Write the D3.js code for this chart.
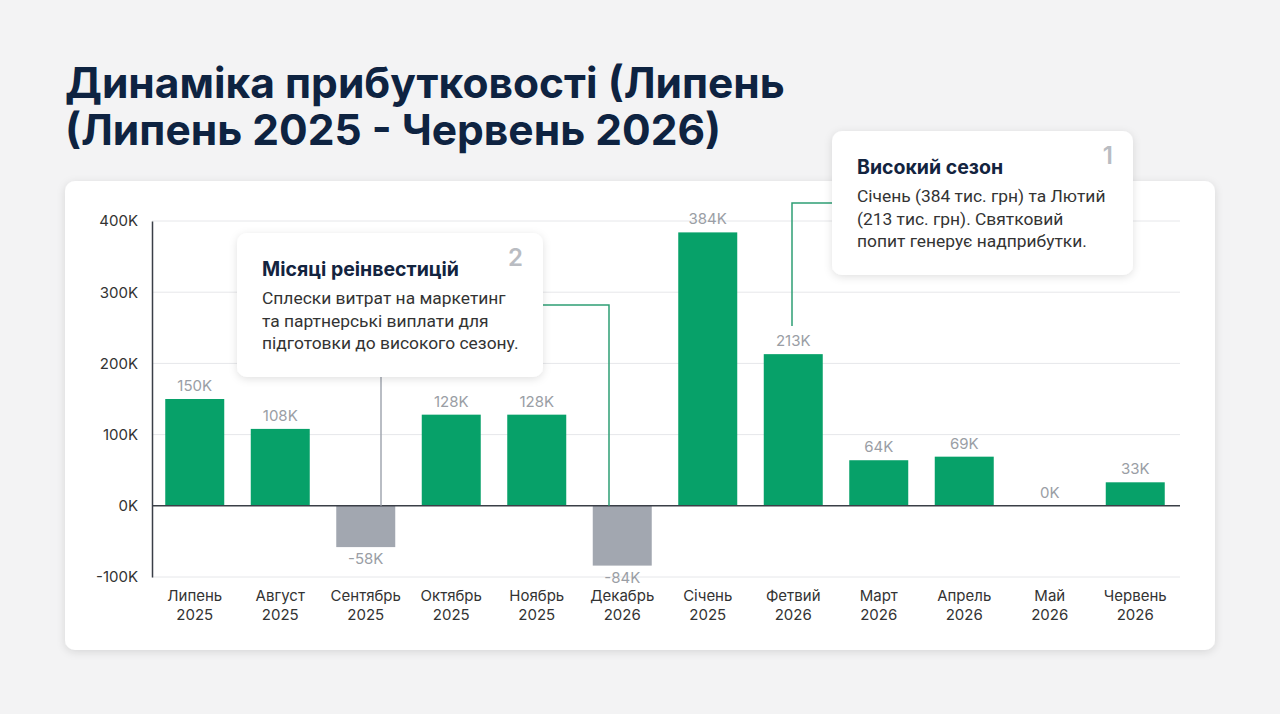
<!DOCTYPE html>
<html lang="uk">
<head>
<meta charset="UTF-8">
<title>Динаміка прибутковості</title>
<style>
  * { margin: 0; padding: 0; box-sizing: border-box; }
  body { background: #f3f3f4; width: 1280px; height: 714px; overflow: hidden; font-family: Inter, 'Noto Sans', sans-serif; }
  svg { display: block; }
</style>
</head>
<body>
<svg width="1280" height="714"></svg>
<script src="https://cdn.jsdelivr.net/npm/d3@7/dist/d3.min.js"></script>
<script>
// Data
const months = ['Липень', 'Август', 'Сентябрь', 'Октябрь', 'Ноябрь', 'Декабрь', 'Січень', 'Фетвий', 'Март', 'Апрель', 'Май', 'Червень'];
const years = ['2025', '2025', '2025', '2025', '2025', '2026', '2025', '2026', '2026', '2026', '2026', '2026'];
const profit = [150, 108, -58, 128, 128, -84, 384, 213, 64, 69, 0, 33]; // тис. грн
const yTicks = [-100, 0, 100, 200, 300, 400];

const titleLines = ['Динаміка прибутковості (Липень', '(Липень 2025 - Червень 2026)'];
const note1 = { num: '1', title: 'Високий сезон', lines: ['Січень (384 тис. грн) та Лютий', '(213 тис. грн). Святковий', 'попит генерує надприбутки.'] };
const note2 = { num: '2', title: 'Місяці реінвестицій', lines: ['Сплески витрат на маркетинг', 'та партнерські виплати для', 'підготовки до високого сезону.'] };

const svg = d3.select('svg');
const defs = svg.append('defs');
const sh = defs.append('filter').attr('id', 'shadow').attr('x', '-10%').attr('y', '-10%').attr('width', '120%').attr('height', '130%');
sh.append('feDropShadow').attr('dx', 0).attr('dy', 2).attr('stdDeviation', 4).attr('flood-color', '#000').attr('flood-opacity', 0.12);

// Title
svg.append('g').selectAll('text').data(titleLines).enter().append('text')
  .attr('x', 65).attr('y', (d, i) => 98 + i * 47)
  .attr('fill', '#0e2341').attr('font-size', 42.5).attr('font-weight', 700)
  .text(d => d);

// Card
svg.append('rect').attr('x', 65).attr('y', 181).attr('width', 1150).attr('height', 469)
  .attr('rx', 10).attr('fill', '#fff').attr('filter', 'url(#shadow)');

// Scales
const x = d3.scaleBand().domain(months.map((m, i) => i)).range([152, 1178]).paddingInner(0.31).paddingOuter(0.155);
const y = d3.scaleLinear().domain([-100, 400]).range([577, 221]);

// Grid
const g = svg.append('g');
g.selectAll('.grid').data(yTicks.filter(t => t !== 0)).enter().append('line')
  .attr('x1', 152).attr('x2', 1180).attr('y1', d => y(d)).attr('y2', d => y(d))
  .attr('stroke', '#e6e7ea').attr('stroke-width', 1);

// Y axis
const yAxis = g.append('g').attr('transform', 'translate(152,0)')
  .call(d3.axisLeft(y).tickValues(yTicks).tickSize(0).tickPadding(14).tickFormat(d => d + 'K'));
yAxis.select('.domain').attr('stroke', '#3a3f47').attr('stroke-width', 1.5);
yAxis.selectAll('text').attr('font-size', 15).attr('fill', '#333').attr('font-family', 'Inter, sans-serif');

// Bars
g.selectAll('.bar').data(profit).enter().append('rect')
  .attr('x', (d, i) => x(i)).attr('width', x.bandwidth())
  .attr('y', d => y(Math.max(0, d))).attr('height', d => Math.abs(y(d) - y(0)))
  .attr('fill', d => d >= 0 ? '#07a169' : '#a2a7b0');

// Zero line
g.append('line').attr('x1', 152).attr('x2', 1180).attr('y1', y(0)).attr('y2', y(0))
  .attr('stroke', '#3a3f47').attr('stroke-width', 1.5);

// Value labels
g.selectAll('.val').data(profit).enter().append('text')
  .attr('x', (d, i) => x(i) + x.bandwidth() / 2)
  .attr('y', d => d >= 0 ? y(d) - 8 : y(d) + 17)
  .attr('text-anchor', 'middle').attr('font-size', 15).attr('fill', '#9a9ea5')
  .text(d => d + 'K');

// X labels
const xl = g.selectAll('.xl').data(months).enter().append('text')
  .attr('x', (d, i) => x(i) + x.bandwidth() / 2).attr('y', 601)
  .attr('text-anchor', 'middle').attr('font-size', 15).attr('fill', '#333');
xl.append('tspan').text(d => d);
xl.append('tspan').attr('x', (d, i) => x(i) + x.bandwidth() / 2).attr('dy', 19).text((d, i) => years[i]);

// Connectors
const conn = svg.append('g').attr('fill', 'none');
conn.append('path').attr('d', d3.line()([[832, 203], [792, 203], [792, 326]]))
  .attr('stroke', '#2e9e74').attr('stroke-width', 1.5);
conn.append('path').attr('d', d3.line()([[543, 305], [609, 305], [609, y(0)]]))
  .attr('stroke', '#2e9e74').attr('stroke-width', 1.5);
conn.append('line').attr('x1', 381).attr('x2', 381).attr('y1', 377).attr('y2', y(0))
  .attr('stroke', '#a2a7b0').attr('stroke-width', 1.5);

// Annotation boxes
function note(n, bx, by, bw, bh) {
  const a = svg.append('g').attr('transform', `translate(${bx},${by})`);
  a.append('rect').attr('width', bw).attr('height', bh).attr('rx', 10)
    .attr('fill', '#fff').attr('filter', 'url(#shadow)');
  a.append('text').attr('x', bw - 20).attr('y', 33).attr('text-anchor', 'end')
    .attr('font-size', 24).attr('font-weight', 600).attr('fill', '#b9bcc2').text(n.num);
  a.append('text').attr('x', 25).attr('y', 43).attr('font-size', 19.5).attr('font-weight', 700)
    .attr('fill', '#13243f').text(n.title);
  a.append('g').selectAll('text').data(n.lines).enter().append('text')
    .attr('x', 25).attr('y', (d, i) => 71 + i * 22.5)
    .attr('font-size', 17.4).attr('fill', '#333').attr('font-family', 'Roboto, sans-serif')
    .text(d => d);
}
note(note1, 832, 131, 301, 144);
note(note2, 237, 233, 306, 144);
</script>
</body>
</html>
